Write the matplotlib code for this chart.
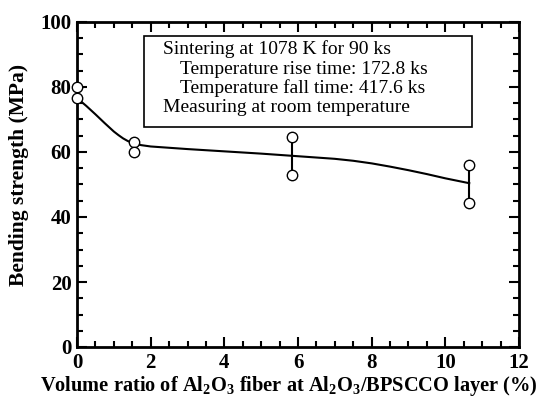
import matplotlib
matplotlib.use("Agg")
import matplotlib.pyplot as plt
from matplotlib.ticker import MultipleLocator

# Data
x_meas = [0.0, 1.55, 5.85, 10.65]
y_high = [80.0, 63.0, 64.5, 56.0]
y_low = [76.7, 60.1, 53.0, 44.4]

curve_x = [0, 0.25, 0.5, 0.75, 1.0, 1.125, 1.25, 1.375, 1.5, 1.625, 1.75, 2.0, 2.5, 3, 4, 5,
           6, 6.5, 7, 7.5, 8, 8.5, 9, 9.5, 10, 10.65]
curve_y = [76.6, 74.2, 71.6, 68.9, 66.3, 65.2, 64.2, 63.4, 62.8, 62.4, 62.1, 61.7, 61.3, 60.9,
           60.2, 59.5, 58.7, 58.3, 57.9, 57.3, 56.5, 55.5, 54.4, 53.2, 51.9, 50.4]

x_ticks = [0, 2, 4, 6, 8, 10, 12]
y_ticks = [0, 20, 40, 60, 80, 100]

box_lines = ["Sintering at 1078 K for 90 ks",
             "Temperature rise time: 172.8 ks",
             "Temperature fall time: 417.6 ks",
             "Measuring at room temperature"]
box_indent = [0, 1, 1, 0]

plt.rcParams['font.family'] = ['Liberation Serif', 'DejaVu Serif']
plt.rcParams['mathtext.fontset'] = 'custom'
plt.rcParams['mathtext.rm'] = 'Liberation Serif'
plt.rcParams['mathtext.bf'] = 'Liberation Serif:bold'

W, H = 539, 398
fig = plt.figure(figsize=(W / 100, H / 100), dpi=100)
ax = fig.add_axes([77 / W, 1 - 347 / H, (519 - 77) / W, (347 - 22) / H])

ax.plot(curve_x, curve_y, color='black', lw=1.5, zorder=2)
for xm, yh, yl in zip(x_meas, y_high, y_low):
    ax.plot([xm, xm], [yl, yh], color='black', lw=1.5, zorder=2)
ax.plot(x_meas + x_meas, y_high + y_low, linestyle='none', marker='o', ms=7.5,
        mfc='white', mec='black', mew=1.0, zorder=3, clip_on=False)

ax.set_xlim(0, 12)
ax.set_ylim(0, 100)
ax.set_xticks(x_ticks)
ax.set_yticks(y_ticks)
ax.xaxis.set_minor_locator(MultipleLocator(0.5))
ax.yaxis.set_minor_locator(MultipleLocator(5))
ax.tick_params(which='both', direction='in', top=True, right=True, width=1.5)
ax.tick_params(which='major', length=7, labelsize=15, pad=4)
ax.tick_params(which='minor', length=4)
for lab in ax.get_xticklabels() + ax.get_yticklabels():
    lab.set_fontweight('bold')
for s in ax.spines.values():
    s.set_linewidth(2)

ax.set_ylabel('Bending strength (MPa)', fontsize=15.5, fontweight='bold')
ax.yaxis.set_label_coords(-(77 - 19) / 442, (347 - 175) / 325)
ax.set_xlabel(r'Volume ratio of Al$_\mathbf{2}$O$_\mathbf{3}$ fiber at Al$_\mathbf{2}$O$_\mathbf{3}$/BPSCCO layer (%)',
              fontsize=14.7, fontweight='bold')
ax.xaxis.set_label_coords((289 - 77) / 442, -(386 - 347) / 325)
ax.xaxis.label.set_va('center')
ax.yaxis.label.set_va('center')

# text box
bx0, by0, bx1, by1 = 144, 36, 472, 127
fig.patches.append(plt.Rectangle((bx0 / W, 1 - by1 / H), (bx1 - bx0) / W, (by1 - by0) / H,
                                 transform=fig.transFigure, fill=True, facecolor='white',
                                 edgecolor='black', lw=1.2, zorder=5))
ys = [49, 69, 88, 107]
for line, ind, yy in zip(box_lines, box_indent, ys):
    fig.text((163 + 17 * ind) / W, 1 - yy / H, line, fontsize=14, va='center', ha='left', zorder=6)

fig.savefig('out.png', dpi=100)
